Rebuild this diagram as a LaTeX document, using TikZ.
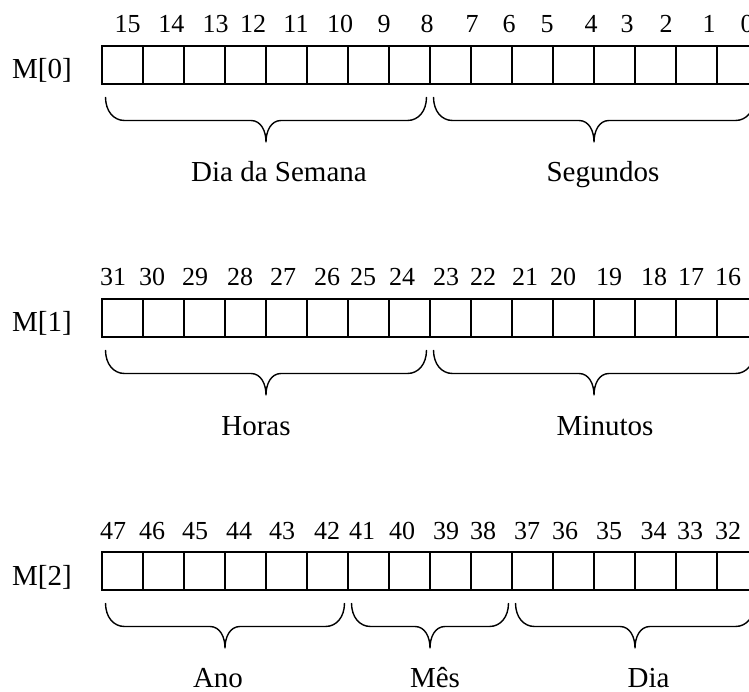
\documentclass[tikz,border=0pt]{standalone}
\usepackage{fontspec}
\setmainfont{Liberation Serif}
\usetikzlibrary{calc}
\tikzstyle{bit} = [draw, line width=0.65pt, minimum width=20.5pt, minimum height=19pt,
        inner sep=0pt, outer sep=0pt]
\tikzstyle{bitno} = [anchor=base, inner sep=0pt, font={\fontsize{13}{15}\selectfont}]
\tikzstyle{reg} = [anchor=base, inner sep=0pt, font={\fontsize{14.5}{17}\selectfont}]
\tikzstyle{field} = [anchor=base, inner sep=0pt, font={\fontsize{14.5}{17}\selectfont}]
\tikzstyle{curly} = [line width=0.7pt, line join=round]
% curly brace under the cells #1 .. #2, coordinates named #3l, #3m, #3r
\newcommand{\fieldbrace}[3]{%
    \coordinate (#3l) at ($(#1.south west)+(3.5,-13)$);
    \coordinate (#3r) at ($(#2.south east)+(-3.5,-13)$);
    \coordinate (#3m) at ($(#3l)!0.5!(#3r)$);
    \draw [curly]
        (#3l) .. controls +(0,-14) and +(-11,0) .. ($(#3l)+(19,-23.5)$)
        -- ($(#3m)+(-15,-23.5)$) .. controls +(10,0) and +(0,11) .. ($(#3m)+(0,-45)$)
        .. controls +(0,11) and +(-10,0) .. ($(#3m)+(15,-23.5)$)
        -- ($(#3r)+(-19,-23.5)$) .. controls +(11,0) and +(0,-14) .. (#3r);
}
\begin{document}
\begin{tikzpicture}[x=0.5pt, y=0.5pt]
        \useasboundingbox (0,0) rectangle (749,691);
        \foreach \rw/\y in {0/626, 1/373, 2/120}
            \foreach \k in {0,...,15} {
                \pgfmathtruncatemacro{\bitnr}{16*\rw+15-\k}
                \node [bit] (b\bitnr) at ({122.5+41*\k},\y) {};
            }
        \node [reg] (m0) at (42,612) {M[0]};
        \node [reg] (m1) at (42,359) {M[1]};
        \node [reg] (m2) at (42,106) {M[2]};
        \foreach \bitnr/\x in {15/127.5, 14/171.3, 13/215.5, 12/253, 11/296, 10/340, 9/384, 8/427,
                7/472, 6/509, 5/547, 4/591, 3/627, 2/666, 1/709, 0/747}
            \node [bitno] (n\bitnr) at (\x,658) {\bitnr};
        \foreach \bitnr/\x in {31/113, 30/152, 29/195, 28/240, 27/283, 26/327, 25/363, 24/402,
                23/446, 22/483, 21/525, 20/563, 19/609, 18/654, 17/691, 16/728}
            \node [bitno] (n\bitnr) at (\x,405) {\bitnr};
        \foreach \bitnr/\x in {47/113, 46/152, 45/195, 44/239, 43/282, 42/327, 41/362, 40/402,
                39/446, 38/483, 37/527, 36/565, 35/609, 34/653.5, 33/690, 32/728}
            \node [bitno] (n\bitnr) at (\x,152) {\bitnr};
        \fieldbrace{b15}{b8}{dow}
        \fieldbrace{b7}{b0}{sec}
        \fieldbrace{b31}{b24}{hr}
        \fieldbrace{b23}{b16}{min}
        \fieldbrace{b47}{b42}{yr}
        \fieldbrace{b41}{b38}{mon}
        \fieldbrace{b37}{b32}{day}
        \node [field] (dowtext) at (279,509) {Dia da Semana};
        \node [field] (sectext) at (603,509) {Segundos};
        \node [field] (hrtext) at (256,256) {Horas};
        \node [field] (mintext) at (605,256) {Minutos};
        \node [field] (yrtext) at (218,4) {Ano};
        \node [field] (montext) at (435,4) {Mês};
        \node [field] (daytext) at (648.5,4) {Dia};
\end{tikzpicture}
\end{document}
